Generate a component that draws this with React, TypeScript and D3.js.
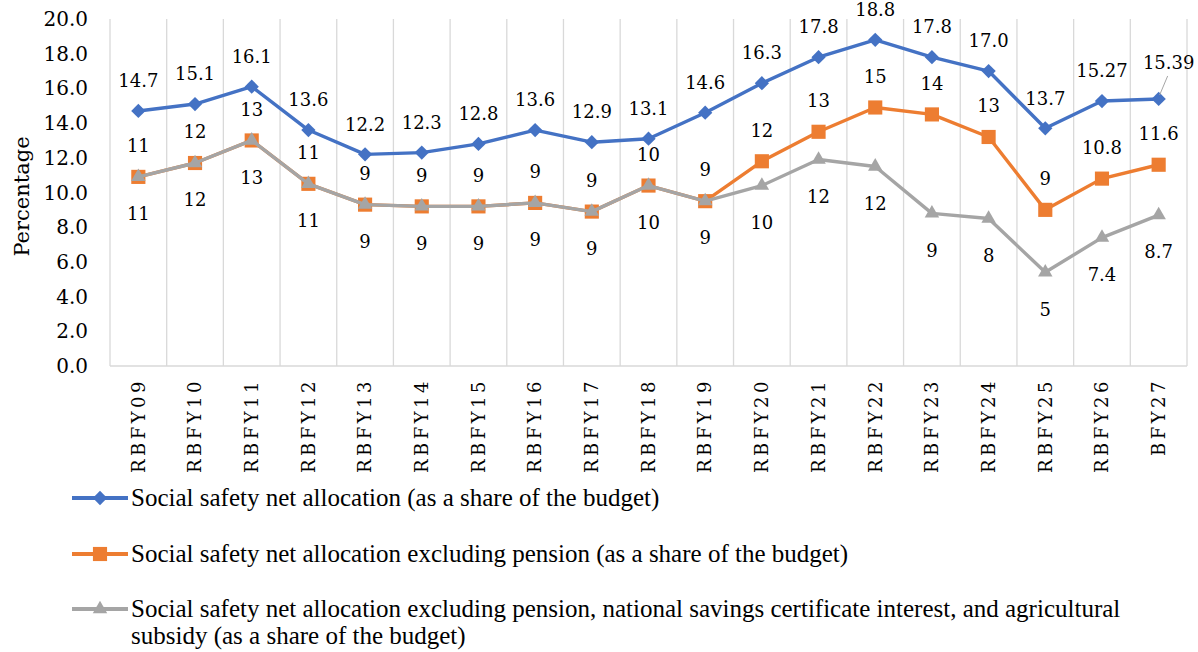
import { useEffect, useRef } from "react";
import * as d3 from "d3";

const categories = [
  "RBFY09", "RBFY10", "RBFY11", "RBFY12", "RBFY13", "RBFY14", "RBFY15",
  "RBFY16", "RBFY17", "RBFY18", "RBFY19", "RBFY20", "RBFY21", "RBFY22",
  "RBFY23", "RBFY24", "RBFY25", "RBFY26", "BFY27",
];

const totalValues = [14.7, 15.1, 16.1, 13.6, 12.2, 12.3, 12.8, 13.6, 12.9, 13.1, 14.6, 16.3, 17.8, 18.8, 17.8, 17.0, 13.7, 15.27, 15.39];
const totalLabels = ["14.7", "15.1", "16.1", "13.6", "12.2", "12.3", "12.8", "13.6", "12.9", "13.1", "14.6", "16.3", "17.8", "18.8", "17.8", "17.0", "13.7", "15.27", "15.39"];

const exPensionValues = [10.9, 11.7, 13.0, 10.5, 9.3, 9.2, 9.2, 9.4, 8.9, 10.4, 9.5, 11.8, 13.5, 14.9, 14.5, 13.2, 9.0, 10.8, 11.6];
const exPensionLabels = ["11", "12", "13", "11", "9", "9", "9", "9", "9", "10", "9", "12", "13", "15", "14", "13", "9", "10.8", "11.6"];

const coreValues = [10.9, 11.7, 13.0, 10.5, 9.3, 9.2, 9.2, 9.4, 8.9, 10.4, 9.5, 10.4, 11.9, 11.5, 8.8, 8.5, 5.4, 7.4, 8.7];
const coreLabels = ["11", "12", "13", "11", "9", "9", "9", "9", "9", "10", "9", "10", "12", "12", "9", "8", "5", "7.4", "8.7"];

const yTicks = [0, 2, 4, 6, 8, 10, 12, 14, 16, 18, 20];

const legendNames = [
  ["Social safety net allocation (as a share of the budget)"],
  ["Social safety net allocation excluding pension (as a share of the budget)"],
  [
    "Social safety net allocation excluding pension, national savings certificate interest, and agricultural",
    "subsidy (as a share of the budget)",
  ],
];

const numFont = "'DejaVu Serif', serif";
const textFont = "'Liberation Serif', serif";

export default function App() {
  const ref = useRef<SVGSVGElement>(null);

  useEffect(() => {
    const width = 1198;
    const height = 652;
    const left = 110;
    const right = 1187;
    const top = 19;
    const bottom = 366;

    const svg = d3.select(ref.current);
    svg.selectAll("*").remove();
    svg.attr("viewBox", `0 0 ${width} ${height}`);

    const x = d3.scaleBand().domain(categories).range([left, right]).padding(0);
    const cx = (c: string) => (x(c) as number) + x.bandwidth() / 2;
    const y = d3.scaleLinear().domain([0, 20]).range([bottom, top]);

    // vertical gridlines on category boundaries
    const bounds = categories.map((c) => x(c) as number).concat([right]);
    svg
      .append("g")
      .selectAll("line")
      .data(bounds)
      .join("line")
      .attr("x1", (d) => d)
      .attr("x2", (d) => d)
      .attr("y1", top)
      .attr("y2", bottom)
      .attr("stroke", "#d9d9d9")
      .attr("stroke-width", 1.3);

    svg
      .append("line")
      .attr("x1", left)
      .attr("x2", right)
      .attr("y1", bottom)
      .attr("y2", bottom)
      .attr("stroke", "#d9d9d9")
      .attr("stroke-width", 1.3);

    // y tick labels
    svg
      .append("g")
      .selectAll("text")
      .data(yTicks)
      .join("text")
      .attr("x", 88)
      .attr("y", (d) => y(d))
      .attr("dy", "0.35em")
      .attr("text-anchor", "end")
      .attr("font-family", numFont)
      .attr("font-size", 20)
      .attr("fill", "#000")
      .text((d) => d3.format(".1f")(d));

    svg
      .append("text")
      .attr("transform", `translate(22,${(top + bottom) / 2 + 4}) rotate(-90)`)
      .attr("text-anchor", "middle")
      .attr("dy", "0.35em")
      .attr("font-family", numFont)
      .attr("font-size", 21)
      .text("Percentage");

    // x labels
    svg
      .append("g")
      .selectAll("text")
      .data(categories)
      .join("text")
      .attr("transform", (d) => `translate(${cx(d)},378) rotate(-90)`)
      .attr("text-anchor", "end")
      .attr("dy", "0.35em")
      .attr("font-family", numFont)
      .attr("font-size", 18)
      .attr("letter-spacing", 3.5)
      .text((d) => d);

    const series = [
      { values: totalValues, labels: totalLabels, color: "#4472c4", shape: "diamond", dy: -30 },
      { values: exPensionValues, labels: exPensionLabels, color: "#ed7d31", shape: "square", dy: -31 },
      { values: coreValues, labels: coreLabels, color: "#a5a5a5", shape: "triangle", dy: 37 },
    ];

    const symbolOf = (shape: string) => {
      if (shape === "diamond") return d3.symbol().type(d3.symbolDiamond2).size(130)();
      if (shape === "square") return d3.symbol().type(d3.symbolSquare).size(200)();
      return d3.symbol().type(d3.symbolTriangle2).size(150)();
    };

    const line = d3
      .line<number>()
      .x((_, i) => cx(categories[i]))
      .y((d) => y(d));

    series.forEach((s) => {
      const g = svg.append("g");
      g.append("path")
        .attr("d", line(s.values))
        .attr("fill", "none")
        .attr("stroke", s.color)
        .attr("stroke-width", 3.4)
        .attr("stroke-linejoin", "round");
      g.selectAll("path.m")
        .data(s.values)
        .join("path")
        .attr("class", "m")
        .attr("transform", (d, i) => `translate(${cx(categories[i])},${y(d)})`)
        .attr("d", symbolOf(s.shape))
        .attr("fill", s.color);
    });

    const lastI = categories.length - 1;

    // data labels
    series.forEach((s) => {
      svg
        .append("g")
        .selectAll("text")
        .data(s.values)
        .join("text")
        .attr("x", (_, i) => {
          if (s.shape === "diamond" && i === lastI) return cx(categories[i]) + 10;
          return cx(categories[i]);
        })
        .attr("y", (d, i) => {
          if (s.shape === "diamond" && i === lastI) return y(d) - 36;
          return y(d) + s.dy;
        })
        .attr("dy", "0.35em")
        .attr("text-anchor", "middle")
        .attr("font-family", numFont)
        .attr("font-size", 18)
        .attr("fill", "#000")
        .text((_, i) => s.labels[i]);
    });

    // leader line for last blue label
    svg
      .append("line")
      .attr("x1", cx(categories[lastI]) + 1)
      .attr("y1", y(totalValues[lastI]) - 4)
      .attr("x2", cx(categories[lastI]) + 9)
      .attr("y2", y(totalValues[lastI]) - 23)
      .attr("stroke", "#a6a6a6")
      .attr("stroke-width", 1);

    // legend
    const legendY = [498, 554, 609];
    series.forEach((s, k) => {
      const g = svg.append("g").attr("transform", `translate(0,${legendY[k]})`);
      g.append("line")
        .attr("x1", 72)
        .attr("x2", 128)
        .attr("y1", 0)
        .attr("y2", 0)
        .attr("stroke", s.color)
        .attr("stroke-width", 3.8);
      g.append("path").attr("transform", "translate(100,0)").attr("d", symbolOf(s.shape)).attr("fill", s.color);
      legendNames[k].forEach((t, j) => {
        g.append("text")
          .attr("x", 131)
          .attr("y", j * 27)
          .attr("dy", "0.33em")
          .attr("font-family", textFont)
          .attr("font-size", 25)
          .attr("fill", "#000")
          .text(t);
      });
    });
  }, []);

  return (
    <svg
      ref={ref}
      width={1198}
      height={652}
      style={{ position: "absolute", left: 0, top: 0, background: "#fff" }}
    />
  );
}
